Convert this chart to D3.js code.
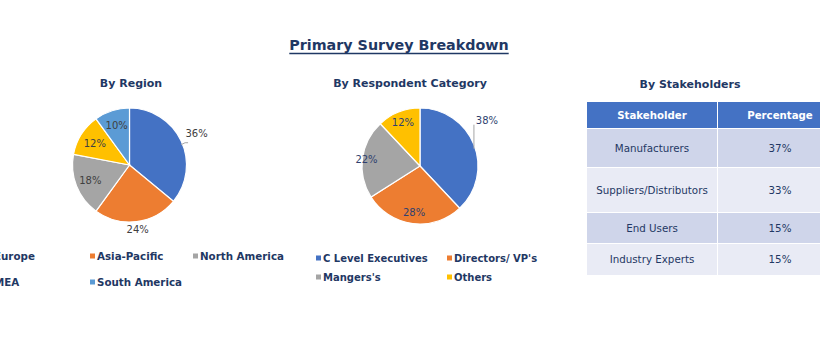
<!DOCTYPE html>
<html><head><meta charset="utf-8">
<script src="https://cdn.jsdelivr.net/npm/d3@7"></script>
<style>body{margin:0;background:#fff}svg{display:block}</style>
</head><body><svg id="c" width="820" height="350"></svg>
<script>
// ---- data ----
const regionLabels = ["Europe","Asia-Pacific","North America","MEA","South America"];
const regionValues = [36,24,18,12,10];
const respondentLabels = ["C Level Executives","Directors/ VP's","Mangers's","Others"];
const respondentValues = [38,28,22,12];
const stakeholders = ["Manufacturers","Suppliers/Distributors","End Users","Industry Experts"];
const stakeholderPct = [37,33,15,15];
const tableHeaders = ["Stakeholder","Percentage"];

// ---- style / layout ----
const navy = "#1f3864";
const regionColors = ["#4472c4","#ed7d31","#a5a5a5","#ffc000","#5b9bd5"];
const respColors = ["#4472c4","#ed7d31","#a5a5a5","#ffc000"];
const font = "'DejaVu Sans', Verdana, sans-serif";
const regionLabelR = [1.3,1.14,0.74,0.72,0.73];
const respLabelR = [null,0.81,0.93,0.8];

const svg = d3.select("#c");

// main title
const t = svg.append("text").attr("x",399).attr("y",50).attr("text-anchor","middle")
  .attr("font-family",font).attr("font-weight","bold").attr("font-size",14.3).attr("fill",navy)
  .text("Primary Survey Breakdown");
const bb = t.node().getBBox();
svg.append("line").attr("x1",bb.x).attr("x2",bb.x+bb.width).attr("y1",53.5).attr("y2",53.5)
  .attr("stroke",navy).attr("stroke-width",1.4);

function subtitle(x,y,s){
  svg.append("text").attr("x",x).attr("y",y).attr("text-anchor","middle")
   .attr("font-family",font).attr("font-weight","bold").attr("font-size",11).attr("fill",navy).text(s);
}
subtitle(131,87,"By Region");
subtitle(410,87,"By Respondent Category");
subtitle(690,88,"By Stakeholders");

function pie(cx,cy,r,values,colors){
  const g = svg.append("g").attr("transform",`translate(${cx},${cy})`);
  const arcs = d3.pie().sort(null)(values);
  const arc = d3.arc().innerRadius(0).outerRadius(r);
  g.selectAll("path").data(arcs).join("path").attr("d",arc)
    .attr("fill",(d,i)=>colors[i]).attr("stroke","#fff").attr("stroke-width",1.2);
  return {g,arcs,arc};
}

// Region pie
{
  const r = 57;
  const {g,arcs} = pie(129.5,165,r,regionValues,regionColors);
  arcs.forEach((d,i)=>{
    const a = (d.startAngle+d.endAngle)/2;
    const lr = r*regionLabelR[i];
    const x = Math.sin(a)*lr, y = -Math.cos(a)*lr;
    if(i===0){
      g.append("path").attr("d",`M${Math.sin(a)*r},${-Math.cos(a)*r+4} l4,-2 h3`)
        .attr("fill","none").attr("stroke","#a6a6a6").attr("stroke-width",1);
    }
    g.append("text").attr("x",x).attr("y",y).attr("dy","0.35em").attr("text-anchor","middle")
     .attr("font-family",font).attr("font-size",10).attr("fill","#404040").text(d.data+"%");
  });
}
// Respondent pie
{
  const r = 58;
  const {g,arcs} = pie(420,166,r,respondentValues,respColors);
  arcs.forEach((d,i)=>{
    const a = (d.startAngle+d.endAngle)/2;
    let x,y;
    if(i===0){
      const ex = Math.sin(a)*r, ey = -Math.cos(a)*r;
      g.append("line").attr("x1",ex).attr("x2",ex).attr("y1",ey+4).attr("y2",ey-20)
        .attr("stroke","#a6a6a6").attr("stroke-width",1);
      x = ex+13; y = ey-24;
    } else {
      const lr = r*respLabelR[i];
      x = Math.sin(a)*lr; y = -Math.cos(a)*lr;
    }
    g.append("text").attr("x",x).attr("y",y).attr("dy","0.35em").attr("text-anchor","middle")
     .attr("font-family",font).attr("font-size",10).attr("fill","#2f3f6f").text(d.data+"%");
  });
}

function legend(labels,colors,x0,colW,y0,rowH,cols,fs){
  labels.forEach((s,i)=>{
    const c=i%cols, rr=Math.floor(i/cols);
    const x=x0+c*colW, y=y0+rr*rowH;
    svg.append("rect").attr("x",x).attr("y",y-2.5).attr("width",5).attr("height",5).attr("fill",colors[i]);
    svg.append("text").attr("x",x+7).attr("y",y).attr("dy","0.35em")
      .attr("font-family",font).attr("font-weight","bold").attr("font-size",fs).attr("fill",navy).text(s);
  });
}
legend(regionLabels,regionColors,-13,103,256,26,3,10.3);
legend(respondentLabels,respColors,316,131,258,19,2,10);

// Table
{
  const x0=587, x1=717, x2=842;
  const rowTops=[102,129,168,213,244];
  const rowBots=[128,167,212,243,275];
  const fills=["#4472c4","#cfd5ea","#e9ebf5","#cfd5ea","#e9ebf5"];
  const rows=[tableHeaders].concat(stakeholders.map((s,i)=>[s,stakeholderPct[i]+"%"]));
  rows.forEach((row,i)=>{
    [[x0,x1],[x1+1,x2]].forEach((cx,j)=>{
      svg.append("rect").attr("x",cx[0]).attr("y",rowTops[i]).attr("width",cx[1]-cx[0]).attr("height",rowBots[i]-rowTops[i]).attr("fill",fills[i]);
      svg.append("text").attr("x",(cx[0]+cx[1])/2).attr("y",(rowTops[i]+rowBots[i])/2).attr("dy","0.35em")
        .attr("text-anchor","middle").attr("font-family",font).attr("font-size",i===0?10.2:10.3)
        .attr("font-weight",i===0?"bold":"normal").attr("fill",i===0?"#fff":navy).text(row[j]);
    });
  });
}
</script></body></html>
